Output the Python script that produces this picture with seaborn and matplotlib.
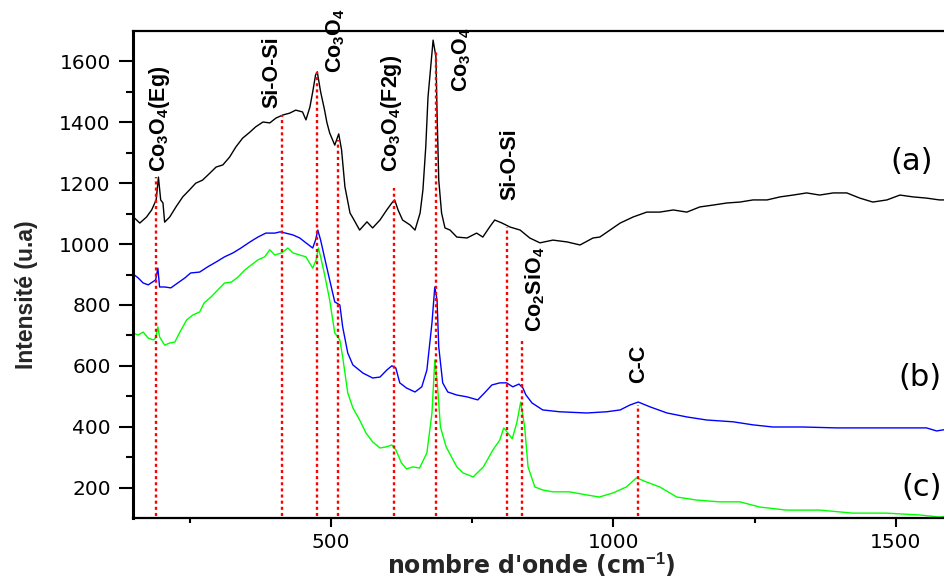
import matplotlib
matplotlib.use("Agg")
import matplotlib.pyplot as plt
from matplotlib import font_manager
import pandas as pd
import seaborn as sns

# Raman spectra (wavenumber in cm-1, intensity in a.u.)
wn_a = [150, 162, 174, 183, 191, 195, 199, 203, 206, 215, 226, 238, 250, 261, 273,
        286, 297, 309, 321, 332, 344, 357, 367, 380, 392, 403, 415, 427, 438, 450,
        456, 463, 468, 473, 476, 482, 489, 493, 498, 507, 514, 519, 525, 534, 539,
        551, 564, 574, 587, 599, 608, 613, 619, 627, 640, 649, 658, 663, 668, 672,
        679, 681, 686, 688, 691, 696, 702, 711, 723, 741, 758, 769, 781, 790, 803,
        817, 835, 852, 870, 893, 918, 941, 964, 976, 994, 1012, 1035, 1059, 1082,
        1106, 1130, 1153, 1176, 1201, 1224, 1247, 1272, 1295, 1318, 1342, 1365,
        1389, 1413, 1436, 1459, 1484, 1507, 1530, 1554, 1577, 1585]
int_a = [1090, 1069, 1089, 1112, 1145, 1220, 1145, 1135, 1072, 1089, 1122, 1155, 1178, 1200, 1210,
         1233, 1253, 1260, 1286, 1319, 1348, 1368, 1385, 1401, 1398, 1414, 1424, 1430, 1440, 1434,
         1408, 1450, 1500, 1555, 1566, 1500, 1440, 1400, 1365, 1325, 1362, 1310, 1188, 1102, 1086,
         1046, 1073, 1053, 1079, 1112, 1135, 1145, 1112, 1079, 1063, 1046, 1102, 1178, 1319, 1483,
         1628, 1670, 1615, 1430, 1210, 1102, 1053, 1046, 1023, 1020, 1036, 1023, 1056, 1079, 1069,
         1056, 1046, 1020, 1004, 1013, 1007, 997, 1020, 1023, 1046, 1069, 1089, 1105, 1105,
         1112, 1105, 1122, 1128, 1135, 1138, 1145, 1145, 1155, 1161, 1168, 1161,
         1168, 1168, 1151, 1138, 1145, 1161, 1155, 1151, 1145, 1145]

wn_b = [150, 159, 168, 177, 185, 190, 194, 197, 206, 217, 229, 242, 252, 268, 282,
        297, 312, 327, 341, 357, 371, 385, 401, 410, 420, 433, 445, 456, 468, 473,
        477, 482, 489, 498, 507, 516, 521, 530, 539, 557, 574, 587, 599, 608, 615,
        622, 634, 649, 661, 670, 679, 684, 688, 691, 698, 707, 723, 741, 760, 772,
        785, 799, 811, 822, 833, 840, 845, 856, 875, 905, 953, 988, 1012, 1029, 1044,
        1065, 1095, 1130, 1165, 1212, 1247, 1282, 1335, 1395, 1454, 1513, 1554, 1572, 1585]
int_b = [902, 889, 872, 866, 876, 882, 921, 859, 859, 856, 872, 889, 905, 908, 925,
         941, 958, 971, 987, 1007, 1023, 1036, 1036, 1040, 1036, 1030, 1020, 1004, 987, 1013,
         1046, 1013, 955, 882, 810, 800, 728, 642, 603, 576, 560, 563, 586, 600, 593,
         544, 527, 514, 531, 586, 741, 859, 816, 662, 544, 514, 504, 498, 488, 511,
         537, 544, 544, 531, 540, 527, 505, 478, 455, 449, 445, 449, 455, 471, 481,
         465, 445, 432, 422, 416, 406, 399, 399, 396, 396, 396, 396, 386, 390]

wn_c = [150, 159, 168, 177, 186, 190, 194, 197, 206, 215, 224, 233, 245, 256, 268,
        276, 288, 300, 312, 324, 336, 348, 359, 371, 383, 392, 401, 413, 424, 433,
        445, 456, 468, 474, 478, 482, 489, 498, 507, 516, 521, 530, 539, 551, 562,
        574, 587, 599, 608, 615, 625, 634, 645, 657, 670, 679, 684, 688, 694, 704,
        723, 734, 752, 770, 787, 799, 806, 813, 821, 829, 836, 843, 849, 861, 875,
        893, 922, 952, 975, 999, 1023, 1041, 1059, 1082, 1112, 1147, 1188, 1224, 1259,
        1306, 1365, 1424, 1483, 1542, 1577, 1585]
int_c = [708, 701, 711, 691, 685, 691, 728, 695, 668, 675, 678, 711, 751, 767, 777,
         807, 826, 849, 872, 875, 892, 915, 931, 948, 958, 981, 964, 971, 987, 971,
         964, 958, 921, 948, 987, 958, 900, 816, 708, 685, 629, 511, 462, 422, 380,
         350, 330, 334, 340, 324, 281, 261, 268, 264, 314, 445, 619, 553, 399, 334,
         268, 248, 235, 268, 324, 356, 396, 380, 360, 412, 481, 399, 268, 202, 192,
         186, 186, 176, 169, 182, 202, 232, 218, 202, 169, 159, 153, 153, 136,
         126, 126, 116, 116, 110, 103, 105]

# Band assignments: marker position and height of the dotted guide
band_wn = [190, 414, 476, 513, 611, 686, 811, 838, 1044]
band_top = [1220, 1424, 1565, 1342, 1184, 1638, 1056, 685, 471]

band_labels = ["Co$_\\mathbf{3}$O$_\\mathbf{4}$(Eg)", "Si-O-Si", "Co$_\\mathbf{3}$O$_\\mathbf{4}$",
               "Co$_\\mathbf{3}$O$_\\mathbf{4}$(F2g)", "Co$_\\mathbf{3}$O$_\\mathbf{4}$", "Si-O-Si",
               "Co$_\\mathbf{2}$SiO$_\\mathbf{4}$", "C-C"]
label_x = [197, 396, 508, 608, 732, 817, 862, 1044]
label_y = [1237, 1447, 1562, 1237, 1500, 1145, 711, 544]

sample_names = ["(a)", "(b)", "(c)"]
sample_x = [1528, 1542, 1546]
sample_y = [1270, 560, 199]

frames = []
for key, wn, inten in (("a", wn_a, int_a), ("b", wn_b, int_b), ("c", wn_c, int_c)):
    frames.append(pd.DataFrame({"wn": wn, "intensity": inten, "sample": key}))
spectra = pd.concat(frames, ignore_index=True)

sns.set_theme(style="ticks")
names = {f.name for f in font_manager.fontManager.ttflist}
narrow = "Liberation Sans Narrow" in names
band_family = "Liberation Sans Narrow" if narrow else "Liberation Sans"
scale = 1.2 if narrow else 1.0

plt.rcParams.update({
    "font.family": ["DejaVu Sans"],
    "mathtext.fontset": "custom",
    "mathtext.rm": band_family,
    "mathtext.bf": band_family + ":bold",
    "mathtext.it": band_family + ":italic",
    "axes.edgecolor": "black",
    "xtick.color": "black",
    "ytick.color": "black",
})

fig = plt.figure(figsize=(9.44, 5.79), dpi=100)
ax = fig.add_axes([133 / 944, 1 - 518 / 579, 1 - 133 / 944, (518 - 31) / 579])

sns.lineplot(data=spectra, x="wn", y="intensity", hue="sample",
             palette={"a": "black", "b": "#0000ff", "c": "#00ff00"},
             estimator=None, legend=False, linewidth=1.0, ax=ax)

ax.vlines(band_wn, ymin=108, ymax=band_top, colors="#ff0000",
          linestyles=(0, (1.3, 1.3)), linewidth=1.7, zorder=3)

for txt, x, y in zip(band_labels, label_x, label_y):
    ax.text(x, y, txt, rotation=90, ha="center", va="bottom",
            fontsize=15.5 * scale, fontweight="bold", family=band_family,
            color="black")

for txt, x, y in zip(sample_names, sample_x, sample_y):
    ax.text(x, y, txt, ha="center", va="center", fontsize=22, color="black")

ax.set_xlim(150, 1585)
ax.set_ylim(100, 1700)
ax.set_xticks([500, 1000, 1500])
ax.set_xticks([250, 750, 1250], minor=True)
ax.set_yticks(list(range(200, 1700, 200)))
ax.set_yticks(list(range(300, 1600, 200)), minor=True)

ax.tick_params(axis="y", which="major", direction="out", length=10, width=1.5,
               labelsize=14.5, pad=6)
ax.tick_params(axis="y", which="minor", direction="out", length=5, width=1.5)
ax.tick_params(axis="x", which="major", direction="out", length=6.5, width=1.5,
               labelsize=14.5, pad=4)
ax.tick_params(axis="x", which="minor", direction="out", length=3.5, width=1.5)

ax.spines["right"].set_visible(False)
ax.spines["left"].set_linewidth(2.2)
ax.spines["bottom"].set_linewidth(1.6)
ax.spines["top"].set_linewidth(1.6)

ax.set_xlabel("nombre d'onde (cm$^{\\mathbf{-1}}$)", fontsize=17, fontweight="bold")
ax.xaxis.set_label_coords(0.491, -0.068)
ax.set_ylabel("Intensité (u.a)", fontsize=16.5 * scale, fontweight="bold",
              family=band_family)
ax.yaxis.set_label_coords(-0.117, 0.458)

fig.savefig("out.png", dpi=100)
